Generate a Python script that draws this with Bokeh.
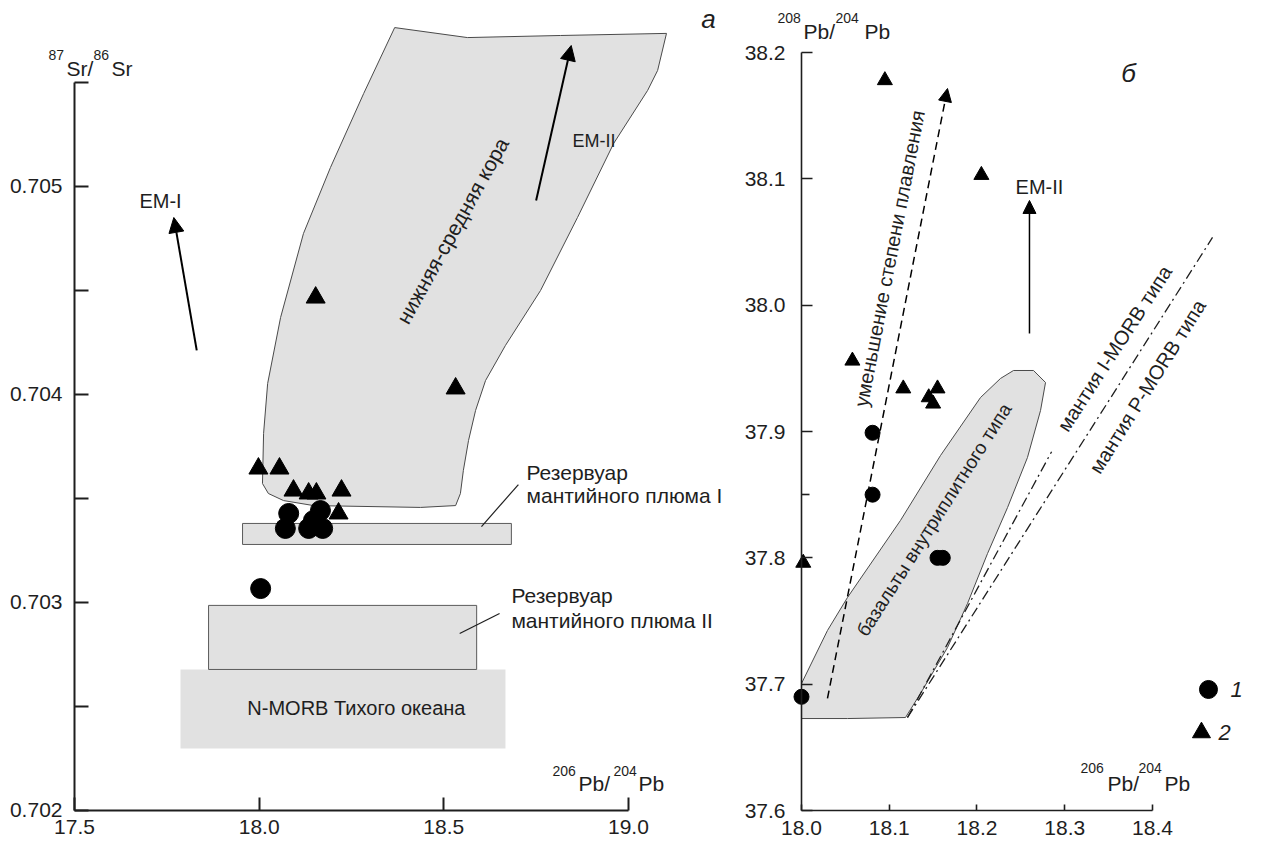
from bokeh.plotting import figure
from bokeh.models import Range1d, FixedTicker, Label, Arrow, NormalHead, NumeralTickFormatter
from bokeh.layouts import row
from bokeh.embed import file_html
from bokeh.resources import INLINE

FONT = "Liberation Sans"
GRAY = "#e1e1e1"
INK = "#1e1e1e"

# ---------------- panel a : 206Pb/204Pb vs 87Sr/86Sr ----------------
crust_x = [18.367, 18.564, 18.816, 19.103, 19.079, 19.052, 18.960, 18.862, 18.762, 18.667,
           18.613, 18.586, 18.567, 18.553, 18.545, 18.532, 18.437, 18.147, 18.066, 18.025,
           18.009, 18.012, 18.023, 18.058, 18.120, 18.193, 18.283]
crust_y = [0.705764, 0.705716, 0.705726, 0.705736, 0.705558, 0.705462, 0.705207, 0.704851,
           0.704500, 0.704236, 0.704067, 0.703923, 0.703779, 0.703635, 0.703524, 0.703466,
           0.703457, 0.703466, 0.703490, 0.703524, 0.703572, 0.703813, 0.704053, 0.704370,
           0.704774, 0.705091, 0.705447]

box_names = ["Резервуар мантийного плюма I", "Резервуар мантийного плюма II", "N-MORB Тихого океана"]
box_left = [17.955, 17.863, 17.787]
box_right = [18.683, 18.589, 18.667]
box_bottom = [0.703279, 0.702678, 0.702298]
box_top = [0.703380, 0.702986, 0.702678]

a_circ_x = [18.080, 18.071, 18.134, 18.172, 18.166, 18.147, 18.004]
a_circ_y = [0.703428, 0.703356, 0.703356, 0.703356, 0.703442, 0.703394, 0.703067]
a_tri_x = [18.153, 18.532, 17.998, 18.055, 18.093, 18.134, 18.155, 18.223, 18.215]
a_tri_y = [0.704466, 0.704029, 0.703644, 0.703644, 0.703538, 0.703524, 0.703524, 0.703538, 0.703428]

a_lead_x0 = [18.602, 18.543]
a_lead_y0 = [0.703365, 0.702851]
a_lead_x1 = [18.702, 18.651]
a_lead_y1 = [0.703567, 0.702947]

a_arrow_x0 = [17.831, 18.750]
a_arrow_y0 = [0.704212, 0.704933]
a_arrow_x1 = [17.769, 18.845]
a_arrow_y1 = [0.704851, 0.705678]

a_xticks = [17.5, 18.0, 18.5, 19.0]
a_yticks = [0.702, 0.703, 0.704, 0.705]
a_yminor = [0.7025, 0.7035, 0.7045, 0.7055]

# ---------------- panel б : 206Pb/204Pb vs 208Pb/204Pb ----------------
basalt_x = [18.2416, 18.2644, 18.2781, 18.2724, 18.2575, 18.2348, 18.2120, 18.1892, 18.1664,
            18.1356, 18.1185, 18.0524, 18.0000, 18.0000, 18.0296, 18.0524, 18.1128, 18.1584,
            18.2040, 18.2268]
basalt_y = [37.9483, 37.9483, 37.9388, 37.9166, 37.8794, 37.8398, 37.8034, 37.7639, 37.7290,
            37.6926, 37.6736, 37.6728, 37.6728, 37.7005, 37.7425, 37.7686, 37.8296, 37.8810,
            37.9269, 37.9420]

b_circ_x = [18.000, 18.081, 18.081, 18.155, 18.161]
b_circ_y = [37.690, 37.899, 37.850, 37.800, 37.800]
b_tri_x = [18.095, 18.205, 18.058, 18.116, 18.145, 18.155, 18.150, 18.002]
b_tri_y = [38.178, 38.103, 37.956, 37.934, 37.927, 37.934, 37.922, 37.796]

morb_x0 = [18.1208, 18.1208]
morb_y0 = [37.6736, 37.6736]
morb_x1 = [18.2850, 18.4684]
morb_y1 = [37.8840, 38.0536]

melt_x = [18.0296, 18.1664]
melt_y = [37.6887, 38.1715]
em2_x = [18.2598, 18.2598]
em2_y = [37.9776, 38.0829]

legend_x = [18.4638, 18.4558]
legend_y = [37.6958, 37.6617]
legend_labels = ["1", "2"]

b_xticks = [18.0, 18.1, 18.2, 18.3, 18.4]
b_yticks = [37.6, 37.7, 37.8, 37.9, 38.0, 38.1, 38.2]
b_yminor = [37.85]


def base_fig(w, xr, yr, x0, y0):
    p = figure(width=w, height=844, x_range=Range1d(*xr), y_range=Range1d(*yr),
               output_backend="svg", toolbar_location=None,
               min_border_left=0, min_border_right=0,
               min_border_top=0, min_border_bottom=0)
    p.outline_line_color = None
    p.xgrid.visible = False
    p.ygrid.visible = False
    p.background_fill_color = "white"
    p.border_fill_color = "white"
    p.xaxis.fixed_location = y0
    p.yaxis.fixed_location = x0
    for ax in (p.xaxis[0], p.yaxis[0]):
        ax.axis_line_color = INK
        ax.major_tick_line_color = INK
        ax.minor_tick_line_color = INK
        ax.major_tick_out = 0
        ax.minor_tick_out = 0
        ax.major_label_text_font = FONT
        ax.major_label_text_font_size = "21px"
        ax.major_label_text_color = INK
    return p


def lab(p, x, y, text, size, align="left", baseline="alphabetic", angle=0.0, style="normal"):
    off = round(0.35 * size) if baseline == "alphabetic" else 0
    p.add_layout(Label(x=x, y=y, y_offset=off, text=text, text_font=FONT,
                       text_font_size=f"{size}px", text_align=align, text_baseline=baseline,
                       angle=angle, text_font_style=style, text_color=INK))


# ---- panel a
pa = base_fig(725, (17.29962, 19.26279), (0.7018365, 0.7058942), 17.5, 0.702)
pa.xaxis.bounds = (17.5, 19.0)
pa.yaxis.bounds = (0.702, 0.7055)
pa.xaxis.ticker = FixedTicker(ticks=a_xticks, minor_ticks=[])
pa.yaxis.ticker = FixedTicker(ticks=a_yticks, minor_ticks=a_yminor)
pa.xaxis.formatter = NumeralTickFormatter(format="0.0")
pa.yaxis.formatter = NumeralTickFormatter(format="0.000")
pa.xaxis.major_tick_in = 13
pa.xaxis.minor_tick_in = 0
pa.yaxis.major_tick_in = 14
pa.yaxis.minor_tick_in = 14
pa.xaxis.major_label_standoff = 10
pa.yaxis.major_label_standoff = 12
pa.xaxis.axis_line_width = 2
pa.yaxis.axis_line_width = 2
pa.xaxis.major_tick_line_width = 2
pa.yaxis.major_tick_line_width = 2
pa.yaxis.minor_tick_line_width = 2

pa.quad(left=box_left[2:], right=box_right[2:], bottom=box_bottom[2:], top=box_top[2:],
        fill_color=GRAY, line_color=None)
pa.quad(left=box_left[:2], right=box_right[:2], bottom=box_bottom[:2], top=box_top[:2],
        fill_color=GRAY, line_color="#5a5a5a", line_width=1)
pa.patch(crust_x, crust_y, fill_color=GRAY, line_color="#4a4a4a", line_width=1)
pa.segment(a_lead_x0, a_lead_y0, a_lead_x1, a_lead_y1, line_color=INK, line_width=1.2)
for i in range(len(a_arrow_x0)):
    pa.add_layout(Arrow(end=NormalHead(size=15, fill_color="black", line_color="black"),
                        x_start=a_arrow_x0[i], y_start=a_arrow_y0[i],
                        x_end=a_arrow_x1[i], y_end=a_arrow_y1[i],
                        line_color="black", line_width=2))
pa.scatter(a_circ_x, a_circ_y, marker="circle", size=20, fill_color="black", line_color="black")
pa.scatter(a_tri_x, a_tri_y, marker="triangle", size=19, fill_color="black", line_color="black")

lab(pa, 18.724, 0.703591, "Резервуар", 21)
lab(pa, 18.724, 0.703481, "мантийного плюма I", 21)
lab(pa, 18.683, 0.703000, "Резервуар", 21)
lab(pa, 18.683, 0.702880, "мантийного плюма II", 21)
lab(pa, 17.968, 0.702457, "N-MORB Тихого океана", 20)
lab(pa, 17.733, 0.704899, "EM-I", 20, align="center")
lab(pa, 18.8485, 0.705188, "EM-II", 18)
lab(pa, 18.5236, 0.704788, "нижняя-средняя кора", 21, align="center", baseline="middle", angle=1.065)
lab(pa, 19.2168, 0.705760, "а", 26, align="center", style="italic")
# axis titles with superscripts
lab(pa, 17.4296, 0.705606, "87", 14)
lab(pa, 17.4783, 0.705534, "Sr/", 21)
lab(pa, 17.5514, 0.705606, "86", 14)
lab(pa, 17.6002, 0.705534, "Sr", 21)
lab(pa, 18.7943, 0.702168, "206", 14)
lab(pa, 18.8647, 0.702096, "Pb/", 21)
lab(pa, 18.9595, 0.702168, "204", 14)
lab(pa, 19.0272, 0.702096, "Pb", 21)

# ---- panel б
pb = base_fig(539, (17.91339, 18.52764), (37.57309, 38.24118), 18.0, 37.6)
pb.xaxis.bounds = (18.0, 18.4)
pb.yaxis.bounds = (37.6, 38.2)
pb.xaxis.ticker = FixedTicker(ticks=b_xticks, minor_ticks=[])
pb.yaxis.ticker = FixedTicker(ticks=b_yticks, minor_ticks=b_yminor)
pb.xaxis.formatter = NumeralTickFormatter(format="0.0")
pb.yaxis.formatter = NumeralTickFormatter(format="0.0")
pb.xaxis.major_tick_in = 6
pb.xaxis.minor_tick_in = 0
pb.yaxis.major_tick_in = 11
pb.yaxis.minor_tick_in = 8
pb.xaxis.major_label_standoff = 10
pb.yaxis.major_label_standoff = 16
pb.xaxis.axis_line_width = 1.6
pb.yaxis.axis_line_width = 1.6
pb.xaxis.major_tick_line_width = 1.6
pb.yaxis.major_tick_line_width = 1.6
pb.yaxis.minor_tick_line_width = 1.6

pb.patch(basalt_x, basalt_y, fill_color=GRAY, line_color="#4a4a4a", line_width=1)
pb.segment(morb_x0, morb_y0, morb_x1, morb_y1, line_color=INK, line_width=1.3, line_dash="10 4 2 4")
pb.add_layout(Arrow(end=NormalHead(size=13, fill_color="black", line_color="black"),
                    x_start=melt_x[0], y_start=melt_y[0], x_end=melt_x[1], y_end=melt_y[1],
                    line_color="black", line_width=1.5, line_dash="8 5"))
pb.add_layout(Arrow(end=NormalHead(size=13, fill_color="black", line_color="black"),
                    x_start=em2_x[0], y_start=em2_y[0], x_end=em2_x[1], y_end=em2_y[1],
                    line_color="black", line_width=1.5))
pb.scatter(b_circ_x, b_circ_y, marker="circle", size=15, fill_color="black", line_color="black")
pb.scatter(b_tri_x, b_tri_y, marker="triangle", size=15, fill_color="black", line_color="black")
pb.scatter(legend_x[:1], legend_y[:1], marker="circle", size=18, fill_color="black", line_color="black")
pb.scatter(legend_x[1:], legend_y[1:], marker="triangle", size=18, fill_color="black", line_color="black")

lab(pb, 18.4889, 37.6894, legend_labels[0], 22, style="italic")
lab(pb, 18.4752, 37.6554, legend_labels[1], 22, style="italic")
lab(pb, 18.3726, 38.1763, "б", 26, align="center", style="italic")
lab(pb, 18.2712, 38.0884, "EM-II", 20, align="center")
lab(pb, 18.1003, 38.0370, "уменьшение степени плавления", 20, align="center", baseline="middle", angle=1.379)
lab(pb, 18.1527, 37.8319, "базальты  внутриплитного типа", 19, align="center", baseline="middle", angle=1.005)
lab(pb, 18.3567, 37.9657, "мантия I-MORB типа", 20, align="center", baseline="middle", angle=0.995)
lab(pb, 18.3943, 37.9356, "мантия P-MORB типа", 20, align="center", baseline="middle", angle=1.01)
lab(pb, 17.9726, 38.2230, "208", 14)
lab(pb, 18.0023, 38.2111, "Pb/", 21)
lab(pb, 18.0387, 38.2230, "204", 14)
lab(pb, 18.0718, 38.2111, "Pb", 21)
lab(pb, 18.3179, 37.6293, "206", 14)
lab(pb, 18.3487, 37.6158, "Pb/", 21)
lab(pb, 18.3840, 37.6293, "204", 14)
lab(pb, 18.4137, 37.6158, "Pb", 21)

layout = row(pa, pb)
open("out.html", "w").write(file_html(layout, INLINE))
